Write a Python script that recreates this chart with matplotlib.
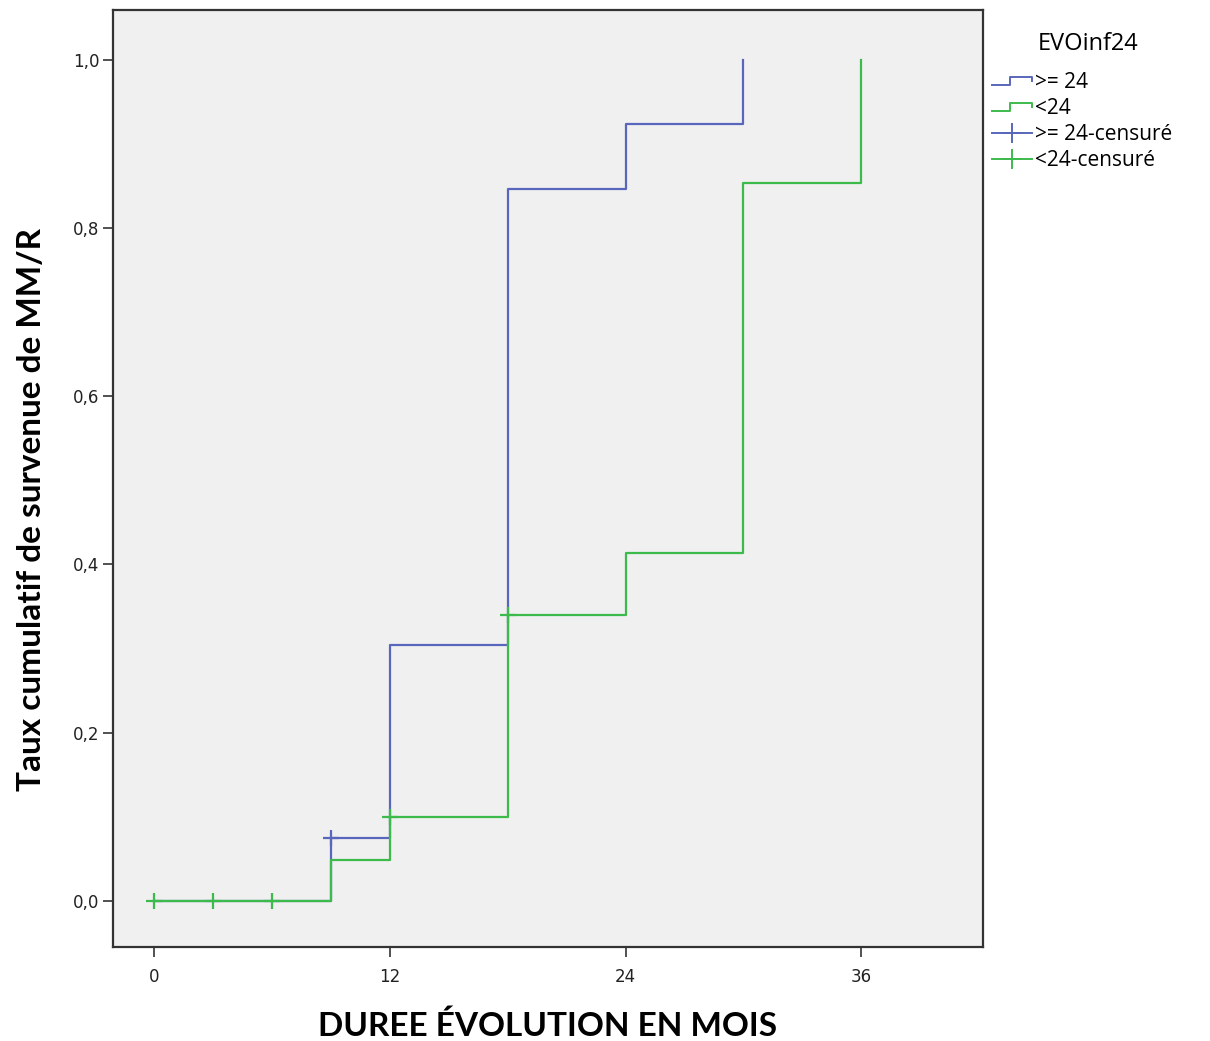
import matplotlib
matplotlib.use("Agg")
import matplotlib.pyplot as plt
from matplotlib.lines import Line2D
from matplotlib.legend_handler import HandlerBase
from matplotlib.ticker import FuncFormatter

# Kaplan-Meier style cumulative incidence
mois_sup24 = [0, 9, 12, 18, 24, 30]
taux_sup24 = [0.0, 0.075, 0.304, 0.846, 0.923, 1.0]
mois_inf24 = [0, 9, 12, 18, 24, 30, 36]
taux_inf24 = [0.0, 0.048, 0.10, 0.34, 0.413, 0.853, 1.0]

# censored observations
cens_sup24_x = [9]
cens_sup24_y = [0.075]
cens_inf24_x = [0, 3, 6, 12, 18]
cens_inf24_y = [0.0, 0.0, 0.0, 0.10, 0.34]

labels = [">= 24", "<24", ">= 24-censuré", "<24-censuré"]
xticks = [0, 12, 24, 36]
yticks = [0.0, 0.2, 0.4, 0.6, 0.8, 1.0]

BLUE = "#5867bb"
GREEN = "#3dba4c"


class StepHandler(HandlerBase):
    # little step glyph like the SPSS legend
    def create_artists(self, legend, orig_handle, xdescent, ydescent,
                       width, height, fontsize, trans):
        x0 = -xdescent
        y0 = -ydescent
        xs = [x0, x0 + width * 0.45, x0 + width * 0.45, x0 + width, x0 + width]
        ys = [y0 + height * 0.2, y0 + height * 0.2, y0 + height * 0.75,
              y0 + height * 0.75, y0 + height * 0.5]
        ln = Line2D(xs, ys, color=orig_handle.get_color(), lw=1.4)
        ln.set_transform(trans)
        return [ln]


fig = plt.figure(figsize=(12.1, 10.41), dpi=100)
ax = fig.add_axes([0.0934, 0.0903, 0.7190, 0.9001])
ax.set_facecolor("#f0f0f0")

ax.step(mois_sup24, taux_sup24, where="post", color=BLUE, lw=1.6)
ax.step(mois_inf24, taux_inf24, where="post", color=GREEN, lw=1.6)
ax.plot(cens_sup24_x, cens_sup24_y, ls="none", marker="+", ms=11, mew=1.6, color=BLUE)
ax.plot(cens_inf24_x, cens_inf24_y, ls="none", marker="+", ms=11, mew=1.6, color=GREEN)

ax.set_xlim(-2.1, 42.2)
ax.set_ylim(-0.055, 1.059)
ax.set_xticks(xticks)
ax.set_yticks(yticks)
ax.yaxis.set_major_formatter(FuncFormatter(lambda v, p: f"{v:.1f}".replace(".", ",")))
ax.tick_params(axis="both", direction="out", length=7, width=1.2, color="#333333",
               labelsize=12, labelcolor="#222222")
ax.tick_params(axis="x", pad=8)
ax.tick_params(axis="y", pad=3)

for s in ax.spines.values():
    s.set_color("#333333")
    s.set_linewidth(1.6)

lab_font = dict(family=["Lato", "DejaVu Sans"], weight="bold", size=24)
ax.set_xlabel("DUREE ÉVOLUTION EN MOIS", **lab_font)
ax.set_ylabel("Taux cumulatif de survenue de MM/R", **lab_font)
ax.xaxis.set_label_coords(0.499, -0.068)
ax.yaxis.set_label_coords(-0.077, 0.467)

fig.text(0.899, 0.958, "EVOinf24", ha="center", va="center",
         family=["Open Sans", "DejaVu Sans"], size=17)

handles = [
    Line2D([], [], color=BLUE),
    Line2D([], [], color=GREEN),
    Line2D([], [], color=BLUE, marker="+", ms=14, mew=1.4, lw=1.4),
    Line2D([], [], color=GREEN, marker="+", ms=14, mew=1.4, lw=1.4),
]
leg = fig.legend(handles, labels, loc="upper left", bbox_to_anchor=(0.820, 0.931),
                 frameon=False, numpoints=1,
                 handler_map={handles[0]: StepHandler(), handles[1]: StepHandler()},
                 prop=dict(family=["Open Sans", "DejaVu Sans"], size=15),
                 handlelength=1.9, handletextpad=0.15, labelspacing=0.25,
                 borderaxespad=0.0, borderpad=0.0)

fig.savefig("out.png", dpi=100, facecolor="white")
